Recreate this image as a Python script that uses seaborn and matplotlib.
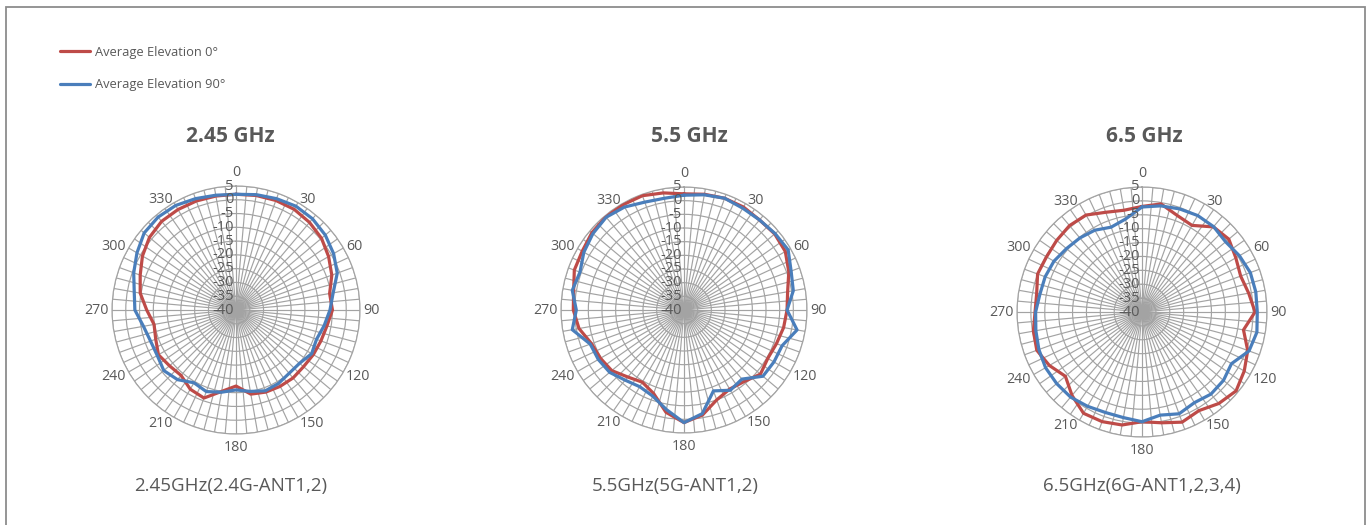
import numpy as np
import pandas as pd
import matplotlib
matplotlib.use("Agg")
import matplotlib.pyplot as plt
import seaborn as sns
from matplotlib.patches import Rectangle
from matplotlib.lines import Line2D

sns.set_style("white")
plt.rcParams['font.family'] = ['Open Sans', 'DejaVu Sans']

angles = [0, 10, 20, 30, 40, 50, 60, 70, 80, 90, 100, 110,
          120, 130, 140, 150, 160, 170, 180, 190, 200, 210, 220, 230,
          240, 250, 260, 270, 280, 290, 300, 310, 320, 330, 340, 350]

ghz245_el0 = [2.0, 2.2, 2.3, 2.2, 1.5, 0.5, -1.2, -3.0, -5.5, -5.0, -6.5, -7.2,
              -7.6, -8.0, -7.8, -8.0, -8.3, -9.0, -12.4, -10.0, -6.0, -6.8, -9.0, -8.5,
              -7.5, -9.0, -9.8, -7.6, -4.7, -3.0, -0.8, 1.0, 2.0, 2.1, 2.1, 2.0]
ghz245_el90 = [2.0, 2.5, 3.0, 3.5, 3.2, 2.3, 0.9, -0.9, -4.2, -5.9, -7.5, -8.9,
               -8.3, -9.9, -10.0, -9.2, -8.8, -10.0, -11.0, -9.7, -8.5, -9.5, -7.0, -5.8,
               -7.0, -7.0, -5.9, -3.3, -2.5, -0.5, 1.5, 3.5, 4.0, 3.8, 3.0, 2.3]

ghz55_el0 = [2.5, 3.0, 3.5, 3.5, 3.0, 3.3, 2.8, 0.8, -1.5, -2.3, -3.0, -4.0,
             -4.6, -3.5, -5.8, -6.6, -5.0, -1.0, 1.2, -2.0, -7.5, -9.5, -8.0, -5.5,
             -4.7, -4.0, -1.0, 0.5, 1.0, 2.7, 3.0, 4.0, 4.5, 4.5, 4.5, 3.5]
ghz55_el90 = [2.0, 2.8, 3.5, 3.0, 3.0, 3.5, 4.0, 1.7, 0.6, -2.3, 2.0, -1.8,
              -2.0, -2.3, -7.0, -6.1, -8.5, -1.5, 1.2, -3.0, -6.5, -7.6, -6.5, -4.5,
              -3.8, -3.5, 1.5, -0.6, 1.5, 0.5, 2.3, 3.5, 4.3, 3.5, 2.0, 1.5]

ghz65_el0 = [-2.0, -0.5, -3.0, -4.0, 0.0, 0.8, -1.0, -2.2, -1.0, 0.7, -2.9, 0.5,
             2.5, 4.2, 3.0, 1.0, 2.2, 0.5, -0.5, 1.3, 2.0, 2.1, -0.8, -4.0,
             -1.5, 0.3, -0.3, -1.5, -1.5, 0.0, -0.3, 0.1, 0.6, 0.3, -1.8, -2.8]
ghz65_el90 = [-2.2, -1.2, -0.5, 0.1, 0.1, -0.7, 0.5, 1.5, 1.6, 1.5, 2.0, 1.0,
              -2.8, -1.7, -1.4, -2.3, -1.0, -2.3, -0.5, -1.4, -1.5, -0.8, 0.0, 0.1,
              0.1, -0.5, -1.2, -1.7, -2.7, -2.9, -3.4, -4.5, -5.2, -6.0, -7.5, -6.0]

titles = ["2.45 GHz", "5.5 GHz", "6.5 GHz"]
captions = ["2.45GHz(2.4G-ANT1,2)", "5.5GHz(5G-ANT1,2)", "6.5GHz(6G-ANT1,2,3,4)"]
series = [(ghz245_el0, ghz245_el90), (ghz55_el0, ghz55_el90), (ghz65_el0, ghz65_el90)]
legend_labels = ["Average Elevation 0°", "Average Elevation 90°"]
r_ticks = [5, 0, -5, -10, -15, -20, -25, -30, -35, -40]
theta_labels = [0, 30, 60, 90, 120, 150, 180, 210, 240, 270, 300, 330]

RED = "#BE4B48"
BLUE = "#4A7EBB"
TXT = "#595959"
GRID = "#a3a3a3"

W, H = 1370, 525
fig = plt.figure(figsize=(W / 100, H / 100), dpi=100)

# outer frame
fig.patches.append(Rectangle((6 / W, -0.1), 1359 / W, (H - 7) / H + 0.1,
                             transform=fig.transFigure, fill=False,
                             edgecolor="#8c8c8c", lw=1.3))

# centre positions (pixels) and radius of each polar chart
centers = [(236, 310, 124), (684, 310, 123), (1142, 312, 125)]
title_x = [230, 689, 1144]
caption_x = [231, 675, 1142]

for i, (cx, cy, rad) in enumerate(centers):
    ax = fig.add_axes([(cx - rad) / W, (H - cy - rad) / H, 2 * rad / W, 2 * rad / H],
                      projection="polar")
    ax.set_theta_zero_location("N")
    ax.set_theta_direction(-1)
    ax.set_rlim(-40, 5)
    ax.set_rticks(r_ticks)
    ax.set_yticklabels([])
    ax.set_xticks(np.deg2rad(np.arange(0, 360, 5)))
    ax.set_xticklabels([])
    ax.grid(True, color=GRID, lw=0.85)
    ax.spines["polar"].set_color(GRID)
    ax.spines["polar"].set_linewidth(0.85)
    ax.tick_params(length=0)

    for vals, col in zip(series[i], [RED, BLUE]):
        th = np.deg2rad(angles + [360])
        rr = vals + [vals[0]]
        df = pd.DataFrame({"theta": th, "gain": rr})
        sns.lineplot(data=df, x="theta", y="gain", ax=ax, sort=False,
                     color=col, lw=2.3, estimator=None, legend=False, zorder=5)
    ax.set_xlabel("")
    ax.set_ylabel("")

    for v in r_ticks:
        ax.annotate(str(v), xy=(0, v), xytext=(-1.5, 0), textcoords="offset points",
                    ha="right", va="center", fontsize=10.5, color=TXT, zorder=6)
    # angle labels: side labels hug the ring, top/bottom ones sit a bit further out
    for a in theta_labels:
        t = np.deg2rad(a)
        s, c = np.sin(t), np.cos(t)
        if abs(s) > 0.3:
            ha = "left" if s > 0 else "right"
            off = (2.2 * s, 2.2 * c - (2.2 if c < -0.1 else 0))
        else:
            ha = "center"
            off = (0, 10 if c > 0 else -9.8)
        ax.annotate(str(a), xy=(t, 5), xytext=off, textcoords="offset points",
                    ha=ha, va="center", fontsize=10.3, color=TXT, annotation_clip=False)

    fig.text(title_x[i] / W, 1 - 137 / H, titles[i], ha="center", va="center",
             fontsize=15, fontweight="bold", color=TXT)
    fig.text(caption_x[i] / W, 1 - 486 / H, captions[i], ha="center", va="center",
             fontsize=13.5, color=TXT)

handles = [Line2D([], [], color=RED, lw=2.3), Line2D([], [], color=BLUE, lw=2.3)]
fig.legend(handles, legend_labels, loc="upper left", bbox_to_anchor=(60 / W, 1 - 46 / H),
           frameon=False, fontsize=9.3, labelcolor=TXT, handlelength=2.3,
           handletextpad=0.4, labelspacing=1.5, borderaxespad=0, borderpad=0)

fig.savefig("out.png", dpi=100)
